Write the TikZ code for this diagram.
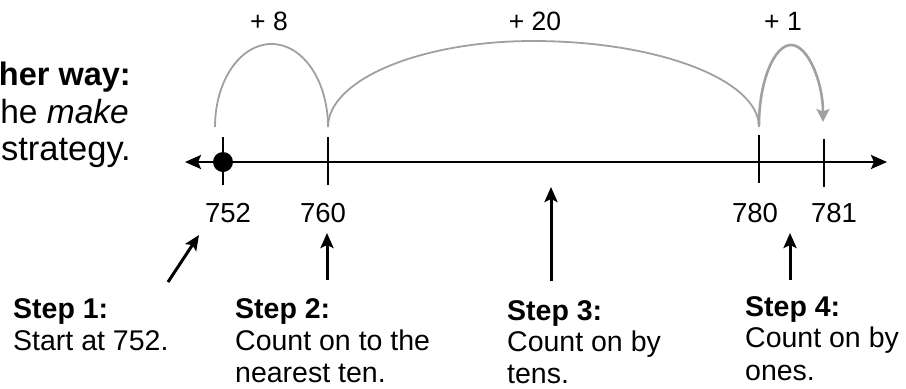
\documentclass[tikz,border=0pt]{standalone}
\usepackage{fontspec}
\setmainfont{Liberation Sans}
\usetikzlibrary{arrows.meta}
\definecolor{arcgray}{RGB}{160,160,160}
\begin{document}
\begin{tikzpicture}[x=1bp,y=-1bp,
  txt/.style={inner sep=0pt, anchor=base west, font=\fontsize{28.5bp}{32bp}\selectfont},
  num/.style={inner sep=0pt, anchor=base, font=\fontsize{27.5bp}{30bp}\selectfont},
  jumplbl/.style={inner sep=0pt, anchor=base, font=\fontsize{26.5bp}{30bp}\selectfont},
  side/.style={inner sep=0pt, anchor=base east, font=\fontsize{33.5bp}{38bp}\selectfont},
  sidewide/.style={side, font=\fontsize{34.5bp}{38bp}\selectfont},
  sidebold/.style={side, font=\fontsize{32.5bp}{38bp}\selectfont\bfseries},
  hop/.style={draw=arcgray, line width=1.8bp},
  tickline/.style={line width=2bp},
  pointer/.style={line width=3bp, -{Stealth[length=15bp,width=13bp,inset=3bp]}},
]
\useasboundingbox (0,0) rectangle (906,388);

% left text (clipped in the reference)
\node[sidebold] (s1) at (131,85) {her way:};
\node[side] (s2) at (129,123) {he \textit{make}};
\node[sidewide] (s3) at (131,160) {strategy.};

% number line
\coordinate (L) at (185,162);
\coordinate (R) at (887,162);
\draw[line width=2.7bp, {Stealth[length=16bp,width=14bp,inset=3bp]}-{Stealth[length=16bp,width=14bp,inset=3bp]}] (L) -- (R);

% ticks
\coordinate (ta1) at (223,137); \coordinate (tb1) at (223,185);
\coordinate (ta2) at (328,137); \coordinate (tb2) at (328,185);
\coordinate (ta3) at (759,135); \coordinate (tb3) at (759,183);
\coordinate (ta4) at (824,139); \coordinate (tb4) at (824,187);
\draw[tickline] (ta1) -- (tb1);
\draw[tickline] (ta2) -- (tb2);
\draw[tickline] (ta3) -- (tb3);
\draw[tickline] (ta4) -- (tb4);

% start dot
\node[circle, fill=black, inner sep=0pt, minimum size=20bp] (dot) at (223,162) {};

% numbers
\node[num] (n752) at (228,222) {752};
\node[num] (n760) at (323,222) {760};
\node[num] (n780) at (755,222) {780};
\node[num] (n781) at (834,222) {781};

% jumps
\coordinate (j1a) at (215,127);
\coordinate (j1b) at (328,127);
\coordinate (j2b) at (759,127);
\coordinate (j3a) at (759,125);
\coordinate (j3b) at (823,122);
\draw[hop] (j1a) .. controls (215,81) and (240,44) .. (271.5,44)
               .. controls (303,44) and (328,81) .. (j1b);
\draw[hop] (j1b) .. controls (328,80) and (420,41) .. (533,41)
               .. controls (658,41) and (759,80) .. (j2b);
\draw[draw=arcgray, line width=2.6bp, -{Stealth[length=13bp,width=13bp,inset=2.5bp]}]
  (j3a) .. controls (759,82) and (774,45) .. (791,45)
        .. controls (808,45) and (823,82) .. (j3b);

\node[jumplbl] (plus8) at (269,30) {+ 8};
\node[jumplbl] (plus20) at (535,30) {+ 20};
\node[jumplbl] (plus1) at (783,30) {+ 1};

% step pointers
\coordinate (p1s) at (168,282); \coordinate (p1e) at (199,235);
\coordinate (p2s) at (327,280); \coordinate (p2e) at (327,233);
\coordinate (p3s) at (551,281); \coordinate (p3e) at (551,187);
\coordinate (p4s) at (790,280); \coordinate (p4e) at (790,233);
\draw[pointer] (p1s) -- (p1e);
\draw[pointer] (p2s) -- (p2e);
\draw[pointer] (p3s) -- (p3e);
\draw[pointer] (p4s) -- (p4e);

% step texts
\node[txt] (st1a) at (13,318) {\bfseries Step 1:};
\node[txt] (st1b) at (13,350) {Start at 752.};
\node[txt] (st2a) at (235,318) {\bfseries Step 2:};
\node[txt] (st2b) at (235,350) {Count on to the};
\node[txt] (st2c) at (235,382) {nearest ten.};
\node[txt] (st3a) at (507,320) {\bfseries Step 3:};
\node[txt] (st3b) at (507,351) {Count on by};
\node[txt] (st3c) at (507,383) {tens.};
\node[txt] (st4a) at (745,316) {\bfseries Step 4:};
\node[txt] (st4b) at (745,347) {Count on by};
\node[txt] (st4c) at (745,380) {ones.};
\end{tikzpicture}
\end{document}
